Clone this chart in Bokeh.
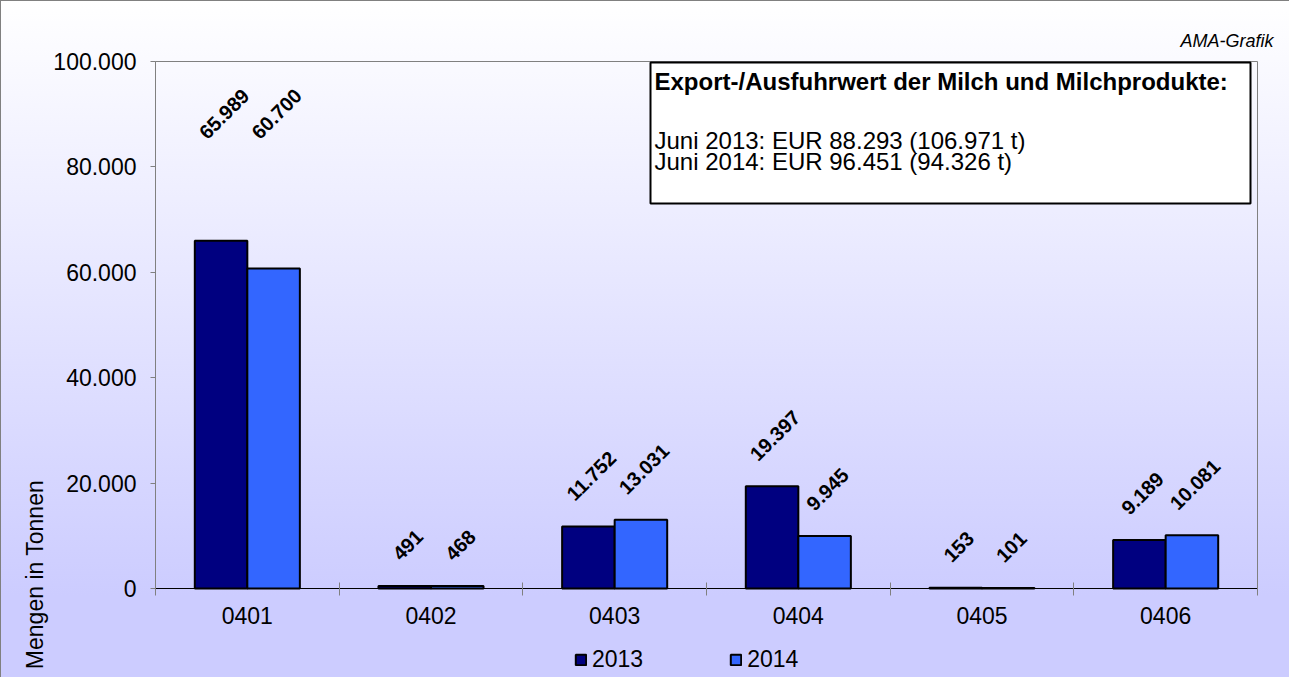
from math import pi
from bokeh.plotting import figure
from bokeh.models import (ColumnDataSource, Range1d, LinearAxis, FixedTicker,
                          BoxAnnotation, Label, LabelSet, Legend, LegendItem)
from bokeh.transform import dodge
from bokeh.core.properties import value
from bokeh.embed import file_html
from bokeh.resources import INLINE

# ---------------- data ----------------
categories = ["0401", "0402", "0403", "0404", "0405", "0406"]
series_names = ["2013", "2014"]
values_2013 = [65989, 491, 11752, 19397, 153, 9189]
values_2014 = [60700, 468, 13031, 9945, 101, 10081]
y_ticks = [0, 20000, 40000, 60000, 80000, 100000]
y_tick_labels = ["0", "20.000", "40.000", "60.000", "80.000", "100.000"]
info_title = "Export-/Ausfuhrwert der Milch und Milchprodukte:"
info_lines = ["Juni 2013: EUR 88.293 (106.971 t)", "Juni 2014: EUR 96.451 (94.326 t)"]
y_axis_title = "Mengen in Tonnen"
credit = "AMA-Grafik"

# ---------------- styles / layout ----------------
FONT = "Liberation Sans"
colors = ["#000080", "#3366ff"]
bar_width = 0.286
offsets = [-0.143, 0.143]
label_font_px = 20
label_gap_2013 = [100, 24, 24, 24, 24, 24]
label_gap_2014 = [128, 24, 24, 24, 24, 24]
W, H = 1289, 677
PLOT_L, PLOT_R, PLOT_T, PLOT_B = 155, 1257, 61, 588   # plot area in pixels
Y_MAX = 100000


def fmt(v):
    return f"{v:,}".replace(",", ".")


def text_len(s, px):
    w = {".": 0.278}
    return sum(w.get(c, 0.556) for c in s) * px


def offsets_for(vals, gaps):
    out = []
    for v, g in zip(vals, gaps):
        L = text_len(fmt(v), label_font_px)
        out.append(g + 0.354 * (L + 0.716 * label_font_px))
    return out


n = len(categories)
centres = [i + 0.5 for i in range(n)]   # category slot centres on the index scale

# pixel <-> data helpers (the frame covers the whole figure)
px_per_x = (PLOT_R - PLOT_L) / n
px_per_y = (PLOT_B - PLOT_T) / Y_MAX


def dx(px):
    return (px - PLOT_L) / px_per_x


def dy(py):
    return (PLOT_B - py) / px_per_y


src = ColumnDataSource(dict(
    xc=centres,
    v2013=values_2013,
    v2014=values_2014,
    t2013=[fmt(v) for v in values_2013],
    t2014=[fmt(v) for v in values_2014],
    o2013=offsets_for(values_2013, label_gap_2013),
    o2014=offsets_for(values_2014, label_gap_2014),
))

p = figure(width=W, height=H, x_range=Range1d(dx(0), dx(W)), y_range=Range1d(dy(H), dy(0)),
           output_backend="svg", toolbar_location=None, tools="", title=None,
           x_axis_location=None, y_axis_location=None,
           min_border=0, min_border_left=0, min_border_right=0,
           min_border_top=0, min_border_bottom=0)
p.grid.visible = False
p.background_fill_color = None
p.border_fill_color = None
p.outline_line_color = None
p.styles = {
    "background-image": "linear-gradient(to bottom, #ffffff 0%, #ccccff 88%, #ccccff 100%)",
    "box-shadow": "inset 1px 1px 0 0 #808080",
}

# plot-area outline
p.add_layout(BoxAnnotation(left=0, right=n, bottom=0, top=Y_MAX, fill_alpha=0,
                           line_color="#808080", line_alpha=1, line_width=1,
                           level="underlay"))

# y axis
yax = LinearAxis(ticker=FixedTicker(ticks=y_ticks, minor_ticks=[]), fixed_location=0,
                 bounds=(0, Y_MAX),
                 major_label_overrides={t: l for t, l in zip(y_ticks, y_tick_labels)})
yax.axis_line_color = "#808080"
yax.major_tick_line_color = "#808080"
yax.major_tick_in = 0
yax.major_tick_out = 5
yax.minor_tick_line_color = None
yax.major_label_standoff = 14
yax.major_label_text_font = FONT
yax.major_label_text_font_size = "23px"
yax.major_label_text_color = "#000000"
p.add_layout(yax, "left")

# x axis (ticks between categories, labels at centres)
xax = LinearAxis(ticker=FixedTicker(ticks=centres, minor_ticks=list(range(n + 1))),
                 fixed_location=0, bounds=(0, n),
                 major_label_overrides={c: cat for c, cat in zip(centres, categories)})
xax.axis_line_color = "#000000"
xax.major_tick_line_color = None
xax.major_tick_in = 0
xax.major_tick_out = 0
xax.minor_tick_line_color = "#808080"
xax.minor_tick_in = 6
xax.minor_tick_out = 7
xax.major_label_standoff = 11
xax.major_label_text_font = FONT
xax.major_label_text_font_size = "23px"
xax.major_label_text_color = "#000000"
p.add_layout(xax, "below")

# bars
r1 = p.vbar(x=dodge("xc", offsets[0]), top="v2013", width=bar_width,
            source=src, fill_color=colors[0], line_color="#000000", line_width=2)
r2 = p.vbar(x=dodge("xc", offsets[1]), top="v2014", width=bar_width,
            source=src, fill_color=colors[1], line_color="#000000", line_width=2)

# data labels
for off, col, txt, oc in [(offsets[0], "v2013", "t2013", "o2013"),
                          (offsets[1], "v2014", "t2014", "o2014")]:
    ls = LabelSet(x=dodge("xc", off), y=col, text=txt, source=src,
                  x_offset=3, y_offset=oc, angle=pi / 4, text_align="center",
                  text_baseline="middle",
                  text_font=value(FONT), text_font_size=f"{label_font_px}px",
                  text_font_style="bold", text_color="#000000")
    p.add_layout(ls)

# legend
legend = Legend(items=[LegendItem(label=series_names[0], renderers=[r1]),
                       LegendItem(label=series_names[1], renderers=[r2])],
                orientation="horizontal", location=(574, 4))
legend.padding = 0
legend.margin = 0
legend.spacing = 86
legend.glyph_width = 13
legend.glyph_height = 13
legend.label_standoff = 5
legend.label_text_font = FONT
legend.label_text_font_size = "23px"
legend.label_text_color = "#000000"
legend.border_line_color = None
legend.background_fill_color = None
legend.background_fill_alpha = 0
p.add_layout(legend)

# info box
p.add_layout(BoxAnnotation(left=dx(650), right=dx(1250), top=dy(62), bottom=dy(203),
                           fill_color="#ffffff", fill_alpha=1, line_color="#000000",
                           line_alpha=1, line_width=2, level="annotation"))
p.add_layout(Label(x=dx(654), y=dy(81), text=info_title,
                   text_font=FONT, text_font_size="24px", text_font_style="bold",
                   text_color="#000000", text_baseline="middle", text_align="left"))
for py, t in zip([140, 161], info_lines):
    p.add_layout(Label(x=dx(654), y=dy(py), text=t,
                       text_font=FONT, text_font_size="24px", text_color="#000000",
                       text_baseline="middle", text_align="left"))

# credit
p.add_layout(Label(x=dx(1273), y=dy(40), text=credit,
                   text_font=FONT, text_font_size="18px", text_font_style="italic",
                   text_color="#000000", text_baseline="middle", text_align="right"))

# y axis title
p.add_layout(Label(x=dx(34), y=dy(574), text=y_axis_title, angle=pi / 2,
                   text_font=FONT, text_font_size="23px", text_color="#000000",
                   text_baseline="middle", text_align="center"))

open("out.html", "w").write(file_html(p, INLINE))
